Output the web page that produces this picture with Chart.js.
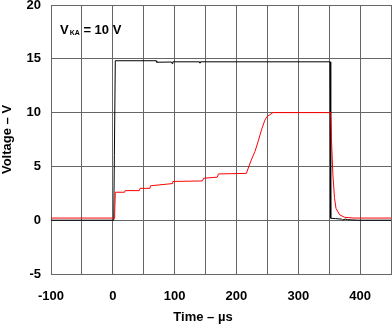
<!DOCTYPE html>
<html>
<head>
<meta charset="utf-8">
<script src="https://cdn.jsdelivr.net/npm/chart.js@4/dist/chart.umd.min.js"></script>
<style>
  html, body { margin: 0; padding: 0; background: #fff; }
  #wrap { width: 392px; height: 327px; }
</style>
</head>
<body>
<div id="wrap"><canvas id="chart" width="392" height="327"></canvas></div>
<script>
// red trace (time in us, volts)
const redTime = [-100, 2, 3, 4, 19, 20, 43, 44, 60, 61, 96, 97, 145, 147, 169, 171, 216, 224, 230, 235, 240.5, 246, 249, 259, 352.5, 353.7, 356, 358.6, 361, 367, 375, 390, 450];
const redVolts = [0.2, 0.2, 0.6, 2.6, 2.6, 2.75, 2.75, 2.96, 2.96, 3.2, 3.4, 3.6, 3.65, 3.9, 4.0, 4.3, 4.35, 5.6, 6.4, 7.3, 8.4, 9.3, 9.6, 10.0, 10.0, 7.45, 4.2, 2.1, 1.1, 0.5, 0.27, 0.2, 0.2];

// black trace
const blackTime = [-100, 1.5, 2.5, 4, 70, 71, 95, 96, 97, 140, 141, 142, 350, 351.5, 352.5, 360, 370, 372, 376, 380, 396, 450];
const blackVolts = [0, 0, 6, 14.82, 14.82, 14.68, 14.7, 14.55, 14.72, 14.72, 14.6, 14.72, 14.72, 14.72, 0.18, 0.15, 0.1, 0.02, 0.1, 0.05, 0, 0];

const yTicks = [-5, 0, 5, 10, 15, 20];

const toPoints = (xs, ys) => xs.map((x, i) => ({ x: x, y: ys[i] }));

const gridColor = "#666";
const font = { family: "'Liberation Sans', Arial, Helvetica, sans-serif", size: 13, weight: "bold" };

const labelPlugin = {
    id: "labels",
    afterDraw(chart) {
        const ctx = chart.ctx;
        ctx.save();
        ctx.fillStyle = "#000";
        ctx.textBaseline = "alphabetic";
        ctx.font = "bold 13px 'Liberation Sans', Arial, sans-serif";
        ctx.fillText("V", 60, 33.5);
        let w = ctx.measureText("V").width;
        ctx.font = "bold 7px 'Liberation Sans', Arial, sans-serif";
        ctx.fillText("KA", 60 + w + 1, 35);
        const w2 = ctx.measureText("KA").width;
        ctx.font = "bold 13px 'Liberation Sans', Arial, sans-serif";
        ctx.fillText(" = 10 V", 60 + w + 1 + w2, 33.5);
        // x axis title
        ctx.textAlign = "center";
        ctx.textBaseline = "middle";
        ctx.fillText("Time \u2013 \u00b5s", 203, 317);
        ctx.restore();
    }
};

const chart = new Chart(document.getElementById("chart"), {
    type: "line",
    data: {
        datasets: [
            {
                data: toPoints(redTime, redVolts),
                borderColor: "#ff0000",
                borderWidth: 1,
                pointRadius: 0,
                tension: 0,
            },
            {
                data: toPoints(blackTime, blackVolts),
                borderColor: "#000",
                borderWidth: 1,
                pointRadius: 0,
                tension: 0,
            },
        ],
    },
    options: {
        responsive: false,
        animation: false,
        events: [],
        layout: { padding: { top: 5, right: 1, left: 0, bottom: 0 } },
        plugins: { legend: { display: false }, tooltip: { enabled: false } },
        scales: {
            x: {
                type: "linear",
                min: -100,
                max: 450,
                afterFit: (s) => { s.height = 53; s.paddingLeft = 0; s.paddingRight = 0; },
                grid: { color: gridColor, drawTicks: false, lineWidth: 1 },
                border: { color: gridColor },
                ticks: {
                    stepSize: 50,
                    autoSkip: false,
                    maxRotation: 0,
                    padding: 15,
                    color: "#000",
                    font: font,
                    callback: (v) => (v % 100 === 0 ? String(v) : ""),
                },
                title: { display: false },
            },
            y: {
                min: -5,
                max: 20,
                afterFit: (s) => { s.width = 51; s.paddingTop = 0; s.paddingBottom = 0; },
                afterBuildTicks: (s) => { s.ticks = yTicks.map((v) => ({ value: v })); },
                grid: { color: gridColor, drawTicks: false, lineWidth: 1 },
                border: { color: gridColor },
                ticks: { padding: 10, color: "#000", font: font },
                title: {
                    display: true,
                    text: "Voltage \u2013 V",
                    color: "#000",
                    font: font,
                    padding: { top: 0, bottom: 0 },
                },
            },
        },
    },
    plugins: [labelPlugin],
});
</script>
</body>
</html>
